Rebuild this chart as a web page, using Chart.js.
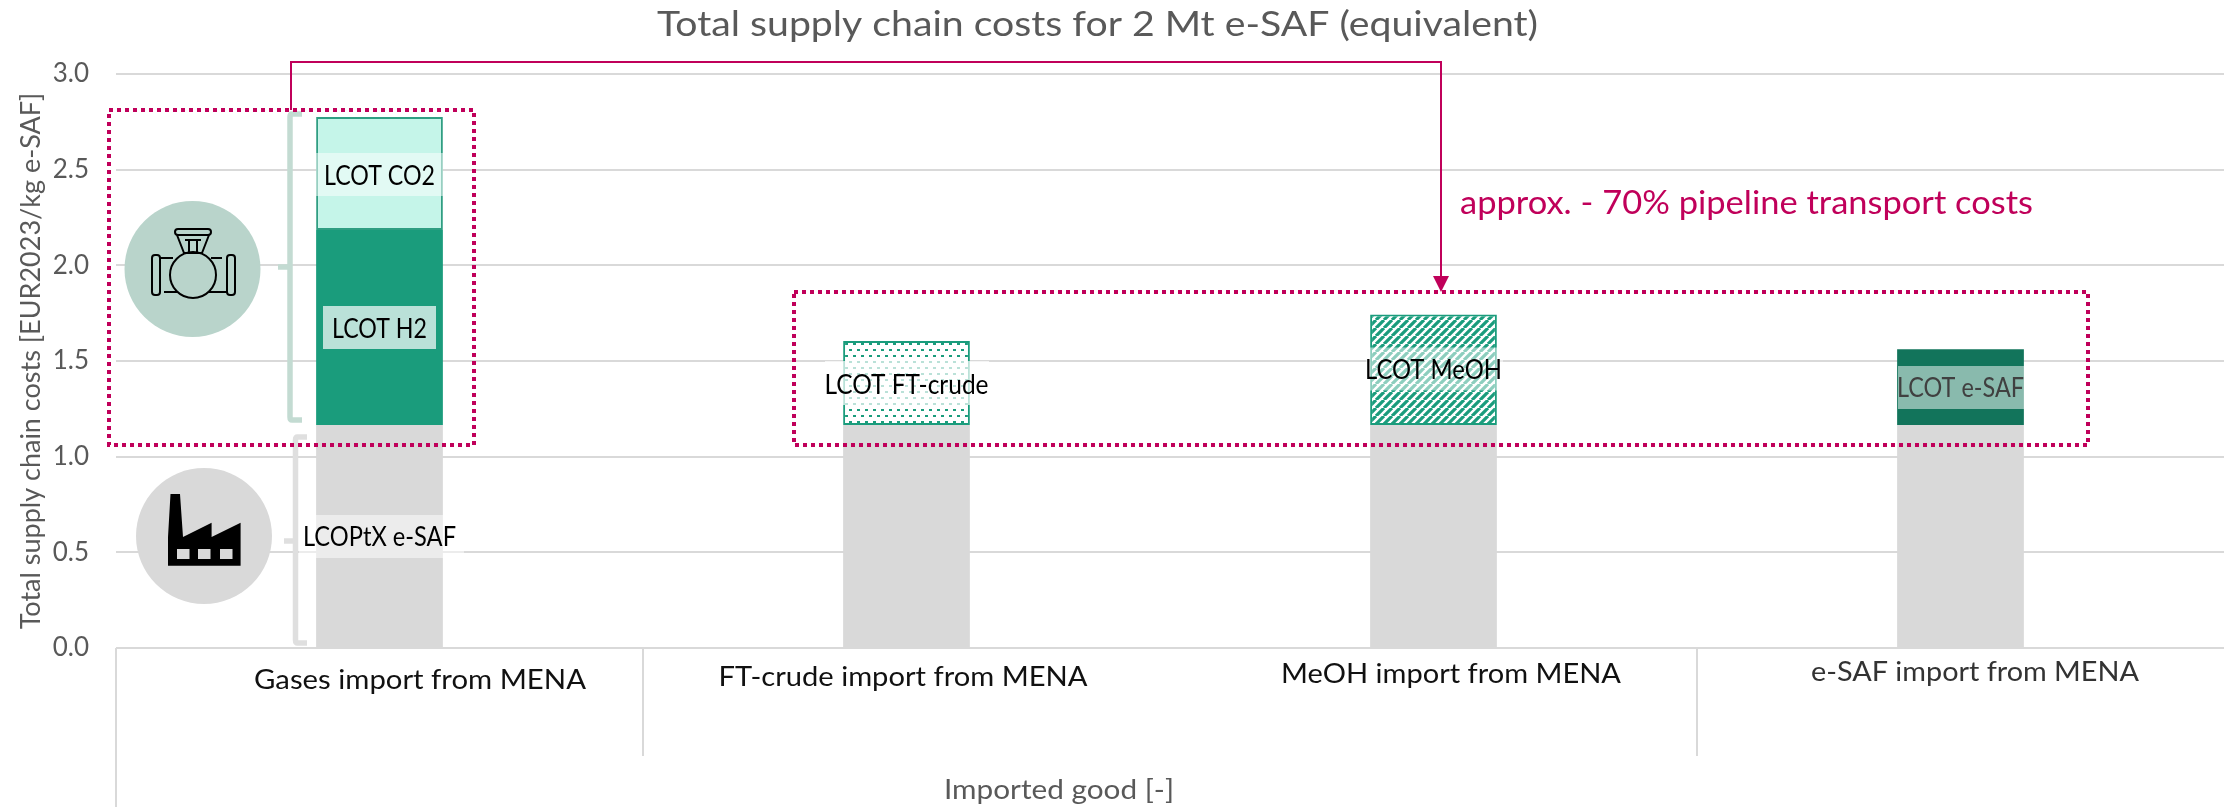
<!DOCTYPE html>
<html><head><meta charset="utf-8">
<style>html,body{margin:0;padding:0;background:#fff}canvas{display:block}</style>
<script src="https://cdn.jsdelivr.net/npm/chart.js@4"></script>
</head><body><canvas id="c" width="2224" height="807"></canvas>
<script>
const categories = ["Gases import from MENA","FT-crude import from MENA","MeOH import from MENA","e-SAF import from MENA"];
const lcoptx   = [1.165,1.165,1.165,1.165];
const lcotH2   = [1.02,null,null,null];
const lcotCO2  = [0.59,null,null,null];
const lcotFT   = [null,0.44,null,null];
const lcotMeOH = [null,null,0.578,null];
const lcotESAF = [null,null,null,0.397];
const yTicks   = [0,0.5,1,1.5,2,2.5,3];

const GREY='#d9d9d9', GREEN='#1a9c7c', MINT='#c5f5e9', DARK='#12745b', PINK='#c0005a', PALE='#b9d4cb', TXT='#595959';
const FONT='Lato';

function dotPattern(){
  const p=document.createElement('canvas');p.width=16;p.height=12;
  const g=p.getContext('2d');g.fillStyle='#fff';g.fillRect(0,0,16,12);g.fillStyle=GREEN;
  g.fillRect(1,1,3,2);g.fillRect(9,1,3,2);g.fillRect(5,7,3,2);g.fillRect(13,7,3,2);
  return g.createPattern(p,'repeat');
}
function hatchPattern(){
  const s=8,p=document.createElement('canvas');p.width=s;p.height=s;
  const g=p.getContext('2d');g.fillStyle='#fff';g.fillRect(0,0,s,s);
  g.strokeStyle=GREEN;g.lineWidth=3.2;g.beginPath();
  for(let i=-s;i<=2*s;i+=s){g.moveTo(i,s);g.lineTo(i+s,0);}
  g.stroke();
  return g.createPattern(p,'repeat');
}
function text(ctx,str,cx,cy,w,font,color){
  ctx.save();ctx.font=font;ctx.fillStyle=color;ctx.textAlign='center';ctx.textBaseline='middle';
  const m=ctx.measureText(str).width;ctx.translate(cx,cy);ctx.scale(w/m,1);ctx.fillText(str,0,0);ctx.restore();
}
function dotted(ctx,x0,y0,x1,y1){
  ctx.save();ctx.strokeStyle=PINK;ctx.lineWidth=4;ctx.setLineDash([4,4]);ctx.strokeRect(x0,y0,x1-x0,y1-y0);ctx.restore();
}
function bracket(ctx,x,y0,y1,tipR,tipL,ym,color){
  ctx.save();ctx.strokeStyle=color;ctx.lineWidth=5.5;ctx.lineJoin='round';ctx.beginPath();
  ctx.moveTo(tipR,y0);ctx.lineTo(x+2,y0);ctx.quadraticCurveTo(x,y0,x,y0+3);ctx.lineTo(x,y1-3);ctx.quadraticCurveTo(x,y1,x+2,y1);ctx.lineTo(tipR,y1);
  ctx.moveTo(x,ym);ctx.lineTo(tipL,ym);ctx.stroke();ctx.restore();
}
function valve(ctx){
  ctx.save();ctx.strokeStyle='#000';ctx.lineWidth=2;ctx.lineJoin='round';
  const rr=(x,y,w,h,r)=>{ctx.beginPath();ctx.roundRect(x,y,w,h,r);ctx.stroke();};
  rr(175,229,36,6,3);rr(152,255,8,40,3);rr(227,255,8,40,3);
  ctx.beginPath();ctx.arc(193,275,23,0,Math.PI*2);ctx.stroke();
  ctx.beginPath();
  ctx.moveTo(177,235);ctx.lineTo(184,253);ctx.lineTo(202,253);ctx.lineTo(209,235);
  ctx.moveTo(185,240);ctx.lineTo(201,240);ctx.moveTo(189,240);ctx.lineTo(189,253);ctx.moveTo(197,240);ctx.lineTo(197,253);
  ctx.moveTo(160,258);ctx.lineTo(173,258);ctx.moveTo(211,258);ctx.lineTo(222,258);
  ctx.moveTo(164,292);ctx.lineTo(178,292);ctx.moveTo(208,292);ctx.lineTo(227,292);
  ctx.stroke();ctx.restore();
}
function factory(ctx){
  ctx.save();ctx.fillStyle='#000';ctx.beginPath();
  [[170.5,494],[180,494],[183,537],[211.6,522.7],[211.6,537],[240.6,522.7],[240.6,565.7],[168,565.7],[168,537]]
    .forEach((p,i)=>i?ctx.lineTo(p[0],p[1]):ctx.moveTo(p[0],p[1]));
  ctx.closePath();ctx.fill();ctx.fillStyle=GREY;
  [177,198,220].forEach(x=>ctx.fillRect(x,549,12.5,10));ctx.restore();
}
const overlay={id:'overlay',afterDatasetsDraw(chart){
  const ctx=chart.ctx,x=chart.scales.x,cx=i=>x.getPixelForValue(i);
  const band=(x0,x1,y0,y1,a)=>{ctx.fillStyle=`rgba(255,255,255,${a})`;ctx.fillRect(x0,y0,x1-x0,y1-y0);};
  ctx.save();ctx.strokeStyle=GREY;ctx.lineWidth=2;ctx.beginPath();
  ctx.moveTo(116,648);ctx.lineTo(116,807);ctx.moveTo(643,648);ctx.lineTo(643,756);ctx.moveTo(1697,648);ctx.lineTo(1697,756);ctx.stroke();ctx.restore();
  text(ctx,"Total supply chain costs for 2 Mt e-SAF (equivalent)",1097.5,25,881,`34px ${FONT}`,TXT);
  text(ctx,"Imported good [-]",1059,790,230,`27px ${FONT}`,TXT);
  const lx=[420,903,1451,1975],ly=[680,677,674,672],lw=[332,369,340,328],lc=['#111','#111','#111','#333'];
  categories.forEach((c,i)=>text(ctx,c,lx[i],ly[i],lw[i],`27px ${FONT}`,lc[i]));
  band(316,443,153,196,.5);band(323,436,306,349,.7);band(299,464,515,558,.5);
  band(825,989,361,405,.7);band(1366,1503,347.5,390.5,.5);band(1898,2026,366,409,.5);
  const f=`26px ${FONT}`;
  text(ctx,"LCOT CO2",cx(0),176.5,111,f,'#000');
  text(ctx,"LCOT H2",cx(0),329.5,95,f,'#000');
  text(ctx,"LCOPtX e-SAF",cx(0),538,153,f,'#000');
  text(ctx,"LCOT FT-crude",cx(1),386,164,f,'#000');
  text(ctx,"LCOT MeOH",cx(2),370.5,137,f,'#000');
  text(ctx,"LCOT e-SAF",cx(3),389,127,f,'#404040');
  bracket(ctx,290,114,420,302,278,267,'#c3dbd2');
  bracket(ctx,295.5,437,643,307,284,541,'#dfdfdf');
  ctx.fillStyle=PALE;ctx.beginPath();ctx.arc(192.5,269,68,0,Math.PI*2);ctx.fill();valve(ctx);
  ctx.fillStyle=GREY;ctx.beginPath();ctx.arc(204,536,68,0,Math.PI*2);ctx.fill();factory(ctx);
  ctx.save();ctx.strokeStyle=PINK;ctx.lineWidth=2;ctx.beginPath();ctx.moveTo(291,110);ctx.lineTo(291,62);ctx.lineTo(1441,62);ctx.lineTo(1441,278);ctx.stroke();
  ctx.fillStyle=PINK;ctx.beginPath();ctx.moveTo(1433,276);ctx.lineTo(1449,276);ctx.lineTo(1441,292);ctx.closePath();ctx.fill();ctx.restore();
  dotted(ctx,109,110,474,445);dotted(ctx,794,292,2088,445);
  text(ctx,"approx. - 70% pipeline transport costs",1746.5,203,573,`33px ${FONT}`,PINK);
}};
new Chart(document.getElementById('c'),{
  type:'bar',
  data:{labels:categories,datasets:[
    {label:'LCOPtX e-SAF',data:lcoptx,backgroundColor:GREY,borderWidth:0},
    {label:'LCOT H2',data:lcotH2,backgroundColor:GREEN,borderWidth:0},
    {label:'LCOT CO2',data:lcotCO2,backgroundColor:MINT,borderColor:'#2f9e82',borderWidth:2,borderSkipped:false},
    {label:'LCOT FT-crude',data:lcotFT,backgroundColor:dotPattern(),borderColor:GREEN,borderWidth:2,borderSkipped:false},
    {label:'LCOT MeOH',data:lcotMeOH,backgroundColor:hatchPattern(),borderColor:GREEN,borderWidth:2,borderSkipped:false},
    {label:'LCOT e-SAF',data:lcotESAF,backgroundColor:DARK,borderWidth:0}
  ]},
  options:{
    responsive:false,animation:false,devicePixelRatio:1,
    layout:{padding:{top:74,right:0,left:0,bottom:0}},
    plugins:{legend:{display:false},tooltip:{enabled:false},title:{display:false}},
    datasets:{bar:{barPercentage:1,categoryPercentage:0.2405,stack:'s'}},
    scales:{
      x:{stacked:true,grid:{display:false},border:{display:false},ticks:{display:false},
         afterFit(s){s.height=159;}},
      y:{stacked:true,min:0,max:3,
         afterBuildTicks(s){s.ticks=yTicks.map(v=>({value:v}));},
         afterFit(s){s.width=116;},
         grid:{color:GREY,lineWidth:2,drawTicks:false},border:{display:false},
         ticks:{padding:27,color:TXT,font:{family:FONT,size:26},callback:v=>v.toFixed(1)},
         title:{display:true,text:'Total supply chain costs [EUR2023/kg e-SAF]',color:TXT,font:{family:FONT,size:27},padding:{top:15,bottom:0}}}
    }
  },
  plugins:[overlay]
});
</script></body></html>
